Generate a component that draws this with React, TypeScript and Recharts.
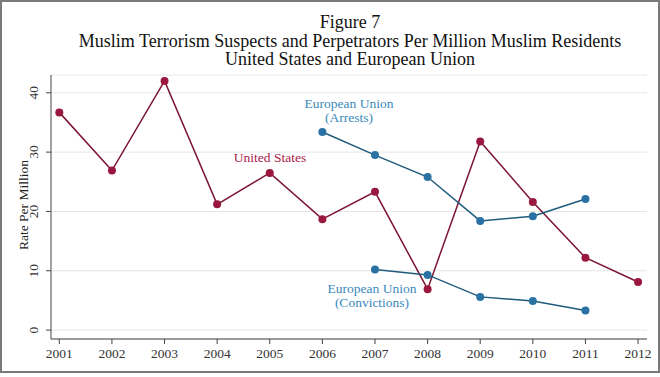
import { CartesianGrid, Line, LineChart, XAxis, YAxis } from "recharts";

const years = [2001, 2002, 2003, 2004, 2005, 2006, 2007, 2008, 2009, 2010, 2011, 2012];
const unitedStates = [36.7, 26.9, 42.0, 21.2, 26.5, 18.7, 23.3, 6.9, 31.8, 21.6, 12.2, 8.1];
const euArrests = [null, null, null, null, null, 33.4, 29.5, 25.8, 18.4, 19.2, 22.1, null];
const euConvictions = [null, null, null, null, null, null, 10.2, 9.3, 5.6, 4.9, 3.3, null];
const yTicks = [0, 10, 20, 30, 40];

const data = years.map((year, i) => ({
  year,
  us: unitedStates[i],
  arrests: euArrests[i],
  convictions: euConvictions[i],
}));

const serif = "'Liberation Serif', 'Times New Roman', serif";
const usColor = "#9a1840";
const usLine = "#7c1434";
const euColor = "#2a72a4";
const euLine = "#1f5b7c";

function YTick({ x, y, payload }: any) {
  const tx = x - 6;
  return (
    <text
      x={tx}
      y={y}
      transform={`rotate(-90 ${tx} ${y})`}
      textAnchor="middle"
      fontFamily={serif}
      fontSize={13.5}
      fill="#333"
    >
      {payload.value}
    </text>
  );
}

function YLabel({ viewBox }: any) {
  const cx = 28;
  const cy = viewBox.y + viewBox.height / 2 - 2;
  return (
    <text
      x={cx}
      y={cy}
      transform={`rotate(-90 ${cx} ${cy})`}
      textAnchor="middle"
      fontFamily={serif}
      fontSize={13.5}
      fill="#222"
    >
      Rate Per Million
    </text>
  );
}

export default function App() {
  return (
    <div
      style={{
        position: "absolute",
        left: 0,
        top: 0,
        width: 660,
        height: 377,
        background: "#fff",
        fontFamily: serif,
      }}
    >
      <div
        style={{
          position: "absolute",
          left: 0,
          top: 0,
          width: 656,
          height: 369,
          border: "2px solid #7a7a7a",
        }}
      />
      <div
        style={{
          position: "absolute",
          left: 50,
          width: 600,
          top: 13,
          textAlign: "center",
          fontSize: 18,
          lineHeight: "18.5px",
          color: "#111",
        }}
      >
        <div>Figure 7</div>
        <div>Muslim Terrorism Suspects and Perpetrators Per Million Muslim Residents</div>
        <div>United States and European Union</div>
      </div>
      <LineChart
        width={660}
        height={377}
        data={data}
        margin={{ top: 75, right: 13, bottom: 8, left: 0 }}
        style={{ position: "absolute", left: 0, top: 0 }}
      >
        <CartesianGrid horizontal vertical={false} stroke="#e6e6e6" />
        <XAxis
          dataKey="year"
          type="number"
          domain={[2000.842, 2012.17]}
          ticks={years}
          interval={0}
          height={30}
          stroke="#444"
          tickSize={5}
          tick={{ fontFamily: serif, fontSize: 13.5, fill: "#333" }}
          tickMargin={4}
        />
        <YAxis
          type="number"
          domain={[-1.5, 43]}
          ticks={yTicks}
          interval={0}
          width={51}
          stroke="#444"
          tickSize={5}
          tick={<YTick />}
          label={<YLabel />}
        />
        <Line
          dataKey="us"
          stroke={usLine}
          strokeWidth={1.5}
          dot={{ r: 4, fill: usColor, stroke: usColor, strokeWidth: 0 }}
          isAnimationActive={false}
        />
        <Line
          dataKey="arrests"
          stroke={euLine}
          strokeWidth={1.5}
          dot={{ r: 4, fill: euColor, stroke: euColor, strokeWidth: 0 }}
          isAnimationActive={false}
        />
        <Line
          dataKey="convictions"
          stroke={euLine}
          strokeWidth={1.5}
          dot={{ r: 4, fill: euColor, stroke: euColor, strokeWidth: 0 }}
          isAnimationActive={false}
        />
      </LineChart>
      <div
        style={{
          position: "absolute",
          left: 220,
          width: 100,
          top: 150,
          textAlign: "center",
          fontSize: 13.5,
          color: "#a8184a",
        }}
      >
        United States
      </div>
      <div
        style={{
          position: "absolute",
          left: 289,
          width: 120,
          top: 97,
          textAlign: "center",
          fontSize: 13.5,
          lineHeight: "14px",
          color: "#3a88bc",
        }}
      >
        <div>European Union</div>
        <div>(Arrests)</div>
      </div>
      <div
        style={{
          position: "absolute",
          left: 312,
          width: 120,
          top: 282,
          textAlign: "center",
          fontSize: 13.5,
          lineHeight: "14px",
          color: "#3a88bc",
        }}
      >
        <div>European Union</div>
        <div>(Convictions)</div>
      </div>
    </div>
  );
}
